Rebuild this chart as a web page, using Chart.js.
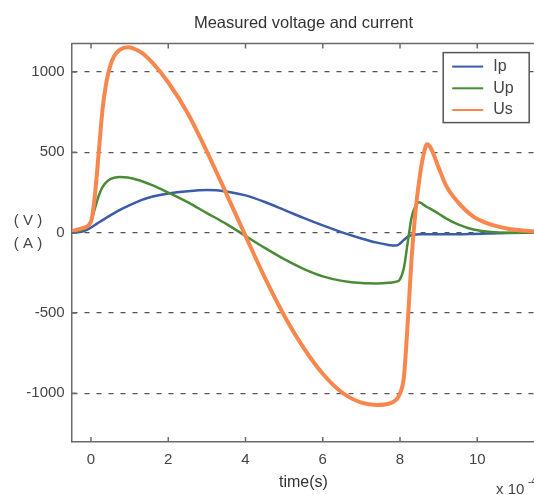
<!DOCTYPE html>
<html lang="en">
<head>
<meta charset="UTF-8">
<title>Measured voltage and current</title>
<script src="https://cdn.jsdelivr.net/npm/chart.js"></script>
<style>
  html, body { margin: 0; padding: 0; overflow: hidden; background: #fff; }
  #wrap { width: 607px; height: 495px; }
</style>
</head>
<body>
<div id="wrap"><canvas id="chart" width="607" height="495"></canvas></div>
<script>
// time in units of 1e-4 s
const time = [-0.5, -0.2, 0, 0.1, 0.2, 0.3, 0.4, 0.5, 0.6, 0.75, 0.95, 1.3, 1.6, 2.0, 2.5, 3.0, 3.5, 4.0, 4.5, 5.0,
              5.5, 6.0, 6.5, 7.0, 7.4, 7.7, 7.9, 8.0, 8.1, 8.2, 8.3, 8.4, 8.5, 8.6, 8.7, 8.8, 9.0, 9.2, 9.5, 9.9,
              10.3, 10.8, 11.5];
const ip = [0, 8, 32, 48, 63, 78, 93, 108, 122, 142, 166, 203, 225, 244, 258, 265, 257, 232, 191, 142,
            92, 45, 2, -36, -62, -76, -80, -68, -45, -25, -15, -12, -10, -10, -10, -10, -10, -10, -10, -8,
            -5, -2, 0];
const up = [5, 20, 70, 150, 230, 285, 315, 333, 342, 346, 344, 322, 295, 250, 190, 122, 55, -20, -95, -165,
            -225, -272, -300, -314, -316, -312, -305, -290, -220, -60, 95, 165, 190, 175, 160, 147, 118, 88, 52, 20,
            6, 0, 0];
const us = [10, 30, 70, 230, 500, 770, 940, 1040, 1100, 1140, 1155, 1122, 1055, 935, 745, 505, 245, -20, -280, -515,
            -715, -878, -995, -1058, -1072, -1065, -1040, -1000, -900, -560, -160, 130, 330, 475, 550, 525, 405, 290, 190, 100,
            55, 25, 6];
const seriesNames = ["Ip", "Up", "Us"];
const xTicks = [0, 2, 4, 6, 8, 10];
const yTicks = [-1000, -500, 0, 500, 1000];

const colors = ["#3b5ca9", "#4a8c35", "#f7874c"];
const font = "'Liberation Sans', Arial, sans-serif";

Chart.defaults.font.family = font;
Chart.defaults.font.size = 15;
Chart.defaults.color = "#444";

function pts(vals) {
    return time.map((t, i) => ({ x: t, y: vals[i] }));
}

// box, inner ticks, y label, exponent and legend, drawn like the matlab figure
const extras = {
    id: "extras",
    afterDraw(chart) {
        const { ctx, chartArea: a, scales } = chart;
        ctx.save();
        ctx.strokeStyle = "#6a6a6a";
        ctx.lineWidth = 1.5;
        ctx.beginPath();
        ctx.moveTo(a.left, a.top);
        ctx.lineTo(a.right, a.top);
        xTicks.forEach(v => {
            const x = scales.x.getPixelForValue(v);
            ctx.moveTo(x, a.top); ctx.lineTo(x, a.top + 5);
            ctx.moveTo(x, a.bottom); ctx.lineTo(x, a.bottom - 5);
        });
        yTicks.forEach(v => {
            const y = scales.y.getPixelForValue(v);
            ctx.moveTo(a.left, y); ctx.lineTo(a.left + 5, y);
        });
        ctx.stroke();

        // y label
        const y0 = scales.y.getPixelForValue(0);
        ctx.fillStyle = "#444";
        ctx.font = "15px " + font;
        ctx.textAlign = "center";
        ctx.textBaseline = "middle";
        ctx.fillText("( V )", 28, y0 - 12);
        ctx.fillText("( A )", 28, y0 + 11);

        // x 10^-4
        ctx.textAlign = "left";
        ctx.fillText("x 10", 496, 490);
        ctx.font = "10px " + font;
        ctx.fillText("-4", 528, 482);

        // legend
        const bw = 86, bh = 70;
        const bx = a.right - bw - 6, by = a.top + 9;
        ctx.fillStyle = "#fff";
        ctx.fillRect(bx, by, bw, bh);
        ctx.strokeStyle = "#555";
        ctx.lineWidth = 1.5;
        ctx.strokeRect(bx, by, bw, bh);
        ctx.font = "16px " + font;
        chart.data.datasets.forEach((ds, i) => {
            const ly = by + 14 + i * 21.7;
            ctx.strokeStyle = ds.borderColor;
            ctx.lineWidth = 2;
            ctx.beginPath();
            ctx.moveTo(bx + 9, ly);
            ctx.lineTo(bx + 40, ly);
            ctx.stroke();
            ctx.fillStyle = "#444";
            ctx.fillText(ds.label, bx + 50, ly);
        });
        ctx.restore();
    }
};

new Chart(document.getElementById("chart"), {
    type: "line",
    data: {
        datasets: [
            { label: seriesNames[0], data: pts(ip), borderColor: colors[0], borderWidth: 2.5, order: 2 },
            { label: seriesNames[1], data: pts(up), borderColor: colors[1], borderWidth: 2.5, order: 1 },
            { label: seriesNames[2], data: pts(us), borderColor: colors[2], borderWidth: 4, order: 0 }
        ]
    },
    options: {
        responsive: false,
        animation: false,
        devicePixelRatio: 1,
        layout: { padding: 0 },
        elements: {
            point: { radius: 0 },
            line: { cubicInterpolationMode: "monotone" }
        },
        plugins: {
            legend: { display: false },
            tooltip: { enabled: false },
            title: {
                display: true,
                text: "Measured voltage and current",
                color: "#333",
                font: { size: 16.5, weight: "normal" },
                padding: { top: 13.2, bottom: 10.6 }
            }
        },
        scales: {
            x: {
                type: "linear",
                min: -0.5,
                max: 11.5,
                afterFit: s => { s.height = 53; },
                afterBuildTicks: s => { s.ticks = xTicks.map(v => ({ value: v })); },
                grid: { display: false, drawTicks: false },
                border: { display: true, color: "#6a6a6a", width: 1.5 },
                ticks: { padding: 9, maxRotation: 0 },
                title: { display: true, text: "time(s)", color: "#333", font: { size: 16 }, padding: { top: 0, bottom: 3 } }
            },
            y: {
                min: -1303,
                max: 1177,
                afterFit: s => { s.width = 71.7; },
                afterBuildTicks: s => { s.ticks = yTicks.map(v => ({ value: v })); },
                grid: { color: "#555", lineWidth: 1.3, drawTicks: false },
                border: { display: true, color: "#6a6a6a", width: 1.5, dash: [5, 7] },
                ticks: { padding: 7, callback: v => String(v) }
            },
            y2: {
                position: "right",
                min: -1303,
                max: 1177,
                afterFit: s => { s.width = 71.8; },
                grid: { display: false },
                border: { display: false },
                ticks: { display: false }
            }
        }
    },
    plugins: [extras]
});
</script>
</body>
</html>
